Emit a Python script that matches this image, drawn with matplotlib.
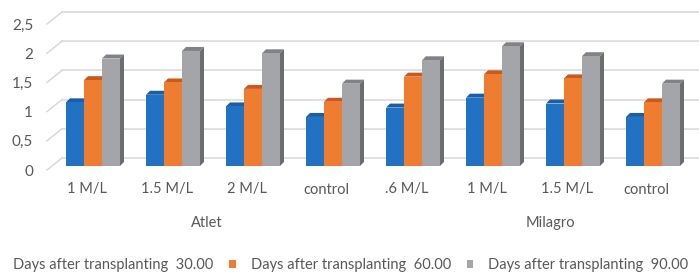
import matplotlib
matplotlib.use('Agg')
import matplotlib.pyplot as plt
from matplotlib.patches import Polygon, Patch

plt.rcParams['font.family'] = ['Lato', 'DejaVu Sans']

# ---- data -----------------------------------------------------------------
CATEGORIES = ['1 M/L', '1.5 M/L', '2 M/L', 'control',
              '.6 M/L', '1 M/L', '1.5 M/L', 'control']
GROUPS = ['Atlet', 'Milagro']
GROUP_POS = [1.42, 5.72]            # centre of each group label (category units)
SERIES = ['Days after transplanting  30.00',
          'Days after transplanting  60.00',
          'Days after transplanting  90.00']
DAT30 = [1.09, 1.22, 1.02, 0.84, 1.00, 1.17, 1.07, 0.84]
DAT60 = [1.47, 1.43, 1.32, 1.10, 1.53, 1.57, 1.50, 1.09]
DAT90 = [1.84, 1.97, 1.93, 1.41, 1.81, 2.05, 1.88, 1.41]
YTICKS = [0, 0.5, 1, 1.5, 2, 2.5]
YTICKLABELS = ['0', '0,5', '1', '1,5', '2', '2,5']

# ---- fake-3D styling (Excel look) -----------------------------------------
W, H = 699, 279
PX_X, PX_Y = 80.0, 58.4             # pixels per data unit
FACE = ['#2272c3', '#ee7d31', '#a3a5a8']
TOP = ['#1a5ea8', '#c95a1c', '#808285']
SIDE = ['#164f8c', '#a84c14', '#6b6d70']
BAR_W = 0.225
DX, DY = 4 / PX_X, 4 / PX_Y         # bar depth
LIFT = 4 / PX_Y                     # bars stand a bit behind the front edge
WALL_DX, WALL_DY = 15 / PX_X, 12 / PX_Y
TXT = '#595959'
GRID = '#d9d9d9'

fig = plt.figure(figsize=(W / 100, H / 100), dpi=100)
ax = fig.add_axes([47 / W, (H - 170) / H, 652 / W, 160 / H])
ax.set_xlim(-0.575, 7.575)
ax.set_ylim(0, 160 / PX_Y)
for s in ax.spines.values():
    s.set_visible(False)

# back wall gridlines + the slanted side-wall bits
x0 = ax.get_xlim()[0]
for v in YTICKS:
    ax.plot([x0 + WALL_DX, ax.get_xlim()[1]], [v + WALL_DY] * 2,
            color=GRID, lw=1.1, zorder=0, clip_on=False)
    ax.plot([x0, x0 + WALL_DX], [v, v + WALL_DY],
            color=GRID, lw=1.1, zorder=0, clip_on=False)

xs = list(range(len(CATEGORIES)))
for k, vals in enumerate([DAT30, DAT60, DAT90]):
    pos = [x + (k - 1) * BAR_W for x in xs]
    bars = ax.bar(pos, vals, width=BAR_W, bottom=LIFT, color=FACE[k],
                  zorder=3 + 2 * k, label=SERIES[k])
    for r in bars:
        bx, by = r.get_x(), r.get_y()
        bw, bh = r.get_width(), r.get_height()
        top = by + bh
        ax.add_patch(Polygon([(bx, top), (bx + bw, top), (bx + bw + DX, top + DY),
                              (bx + DX, top + DY)], closed=True,
                             facecolor=TOP[k], edgecolor='none', zorder=2 + 2 * k))
        ax.add_patch(Polygon([(bx + bw, by), (bx + bw + DX, by + DY),
                              (bx + bw + DX, top + DY), (bx + bw, top)], closed=True,
                             facecolor=SIDE[k], edgecolor='none', zorder=2 + 2 * k))

ax.set_xticks([x - 0.08 for x in xs], CATEGORIES)
ax.set_yticks(YTICKS, YTICKLABELS)
ax.tick_params(axis='x', length=0, pad=9, labelsize=10.5, labelcolor=TXT)
ax.tick_params(axis='y', length=0, pad=10, labelsize=11, labelcolor=TXT)

for name, gx in zip(GROUPS, GROUP_POS):
    ax.text(gx, -0.33, name, transform=ax.get_xaxis_transform(),
            ha='center', va='center', fontsize=10.5, color=TXT)

# first marker sits just off the left edge, as in the source image
handles = [Patch(facecolor=c, edgecolor='none') for c in FACE]
fig.legend(handles, SERIES, loc='center left', bbox_to_anchor=(-8 / W, 14 / H),
           ncol=3, frameon=False, fontsize=10.5, labelcolor=TXT,
           handlelength=0.45, handleheight=0.45, handletextpad=1.0,
           columnspacing=1.1, borderpad=0, borderaxespad=0)

fig.savefig('out.png', dpi=100)
